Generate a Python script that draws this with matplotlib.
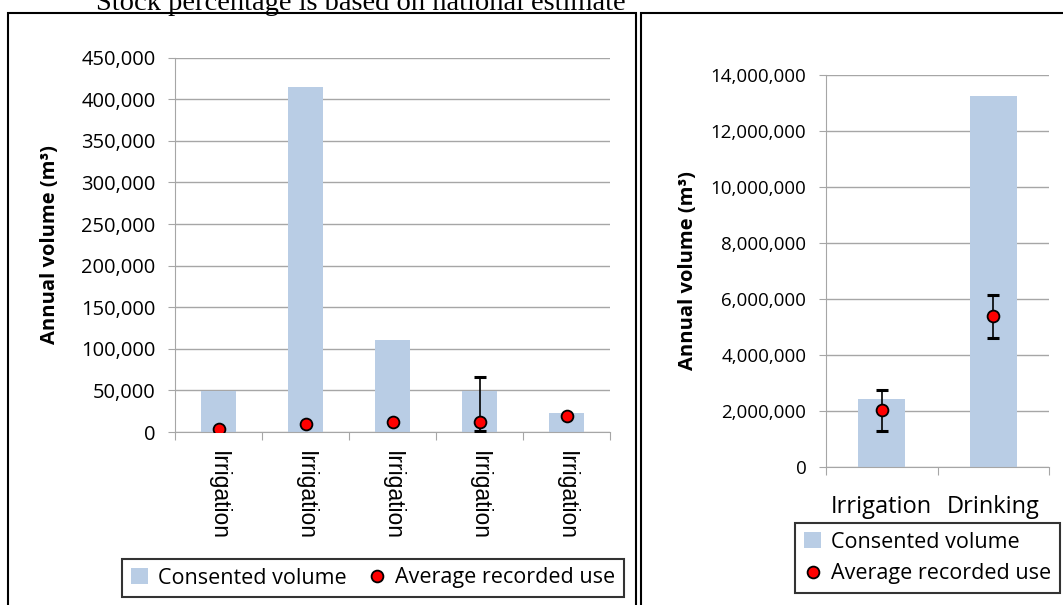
import numpy as np
import matplotlib.pyplot as plt
from matplotlib.patches import Rectangle, Patch
from matplotlib.lines import Line2D
from matplotlib.ticker import StrMethodFormatter

# left chart: five irrigation consents
left_cats = ['Irrigation', 'Irrigation', 'Irrigation', 'Irrigation', 'Irrigation']
left_consented = [49000, 415000, 111000, 49000, 23000]
left_avg = [3200, 10000, 12000, 12000, 19000]
left_low = [None, None, None, 1000, None]
left_high = [None, None, None, 66000, None]

# right chart: irrigation vs drinking
right_cats = ['Irrigation', 'Drinking']
right_consented = [2450000, 13250000]
right_avg = [2040000, 5400000]
right_low = [1300000, 4600000]
right_high = [2770000, 6150000]

bar_col = '#b9cde5'
grid_col = '#a6a6a6'
sans = ['Open Sans', 'DejaVu Sans']

fig = plt.figure(figsize=(10.63, 6.05), dpi=100)
W, H = 1063, 605

def fx(px):
    return px / W

def fy(py):
    return 1 - py / H

# clipped caption at the top and the two frames
fig.text(fx(96), fy(10), 'Stock percentage is based on national estimate',
         family='Liberation Serif', fontsize=20.5, va='baseline', ha='left')
fig.patches.append(Rectangle((fx(8), fy(640)), fx(636) - fx(8), fy(13) - fy(640),
                             transform=fig.transFigure, fill=False, ec='black', lw=1.5))
fig.patches.append(Rectangle((fx(641), fy(640)), fx(1100) - fx(641), fy(13) - fy(640),
                             transform=fig.transFigure, fill=False, ec='black', lw=1.5))


def style(ax, size):
    ax.spines['top'].set_visible(False)
    ax.spines['right'].set_visible(False)
    ax.spines['left'].set_color(grid_col)
    ax.spines['bottom'].set_color(grid_col)
    ax.grid(axis='y', color=grid_col, lw=1)
    ax.set_axisbelow(True)
    ax.tick_params(axis='y', color=grid_col, length=5, pad=9, labelsize=size)
    ax.yaxis.set_major_formatter(StrMethodFormatter('{x:,.0f}'))
    for t in ax.get_yticklabels():
        t.set_family(sans)


def draw_points(ax, x, avg, low, high):
    for xi, a, lo, hi in zip(x, avg, low, high):
        if lo is None:
            continue
        ax.errorbar([xi], [a], yerr=[[a - lo], [hi - a]], fmt='none', ecolor='black',
                    elinewidth=1.2, capsize=4.3, capthick=2.2, zorder=3)
    ax.plot(x, avg, 'o', ls='', mfc='red', mec='black', mew=1.3, ms=8.5, zorder=4)


# ---- left chart
ax1 = fig.add_axes([fx(175), fy(432), fx(610) - fx(175), fy(57.7) - fy(432)])
xl = np.arange(len(left_cats))
ax1.bar(xl, left_consented, width=0.41, color=bar_col, zorder=2)
draw_points(ax1, xl, left_avg, left_low, left_high)
ax1.set_xlim(-0.5, len(left_cats) - 0.5)
ax1.set_ylim(0, 450000)
ax1.set_yticks(np.arange(0, 450001, 50000))
style(ax1, 14.5)
ax1.set_xticks(np.arange(-0.5, len(left_cats), 1))
ax1.set_xticklabels([])
ax1.tick_params(axis='x', which='major', color=grid_col, length=6)
ax1.set_xticks(xl, minor=True)
ax1.set_xticklabels(left_cats, minor=True, rotation=-90, family='Liberation Sans', fontsize=16.5)
ax1.tick_params(axis='x', which='minor', length=0, pad=14)
fig.text(fx(50), fy(245), 'Annual volume (m³)', rotation=90, ha='center', va='center',
         family=sans, fontweight='bold', fontsize=14.5)

handles = [Patch(facecolor=bar_col, edgecolor='none'),
           Line2D([], [], marker='o', ls='', mfc='red', mec='black', mew=1.3, ms=8.5)]
labels = ['Consented volume', 'Average recorded use']
leg1 = fig.legend(handles, labels, loc='center', bbox_to_anchor=(fx(373), fy(578)), ncol=2,
                  prop={'family': sans, 'size': 15.5}, frameon=True, fancybox=False,
                  edgecolor='black', handlelength=0.8, handleheight=0.8, handletextpad=0.45,
                  columnspacing=1.0, borderpad=0.4)
leg1.get_frame().set_linewidth(1.5)

# ---- right chart
ax2 = fig.add_axes([fx(825.7), fy(467.3), fx(1049.3) - fx(825.7), fy(75.3) - fy(467.3)])
xr = np.arange(len(right_cats))
ax2.bar(xr, right_consented, width=0.42, color=bar_col, zorder=2)
draw_points(ax2, xr, right_avg, right_low, right_high)
ax2.set_xlim(-0.5, len(right_cats) - 0.5)
ax2.set_ylim(0, 14000000)
ax2.set_yticks(np.arange(0, 14000001, 2000000))
style(ax2, 13.5)
ax2.set_xticks(np.arange(-0.5, len(right_cats), 1))
ax2.set_xticklabels([])
ax2.tick_params(axis='x', which='major', color=grid_col, length=6)
ax2.set_xticks(xr, minor=True)
ax2.set_xticklabels(right_cats, minor=True, family=sans, fontsize=17)
ax2.tick_params(axis='x', which='minor', length=0, pad=20)
fig.text(fx(688), fy(271), 'Annual volume (m³)', rotation=90, ha='center', va='center',
         family=sans, fontweight='bold', fontsize=14.5)

leg2 = fig.legend(handles, labels, loc='center', bbox_to_anchor=(fx(927.5), fy(558)), ncol=1,
                  prop={'family': sans, 'size': 15.5}, frameon=True, fancybox=False,
                  edgecolor='black', handlelength=0.8, handleheight=0.8, handletextpad=0.45,
                  borderpad=0.4, labelspacing=0.5)
leg2.get_frame().set_linewidth(1.5)

fig.savefig('out.png', dpi=100)
